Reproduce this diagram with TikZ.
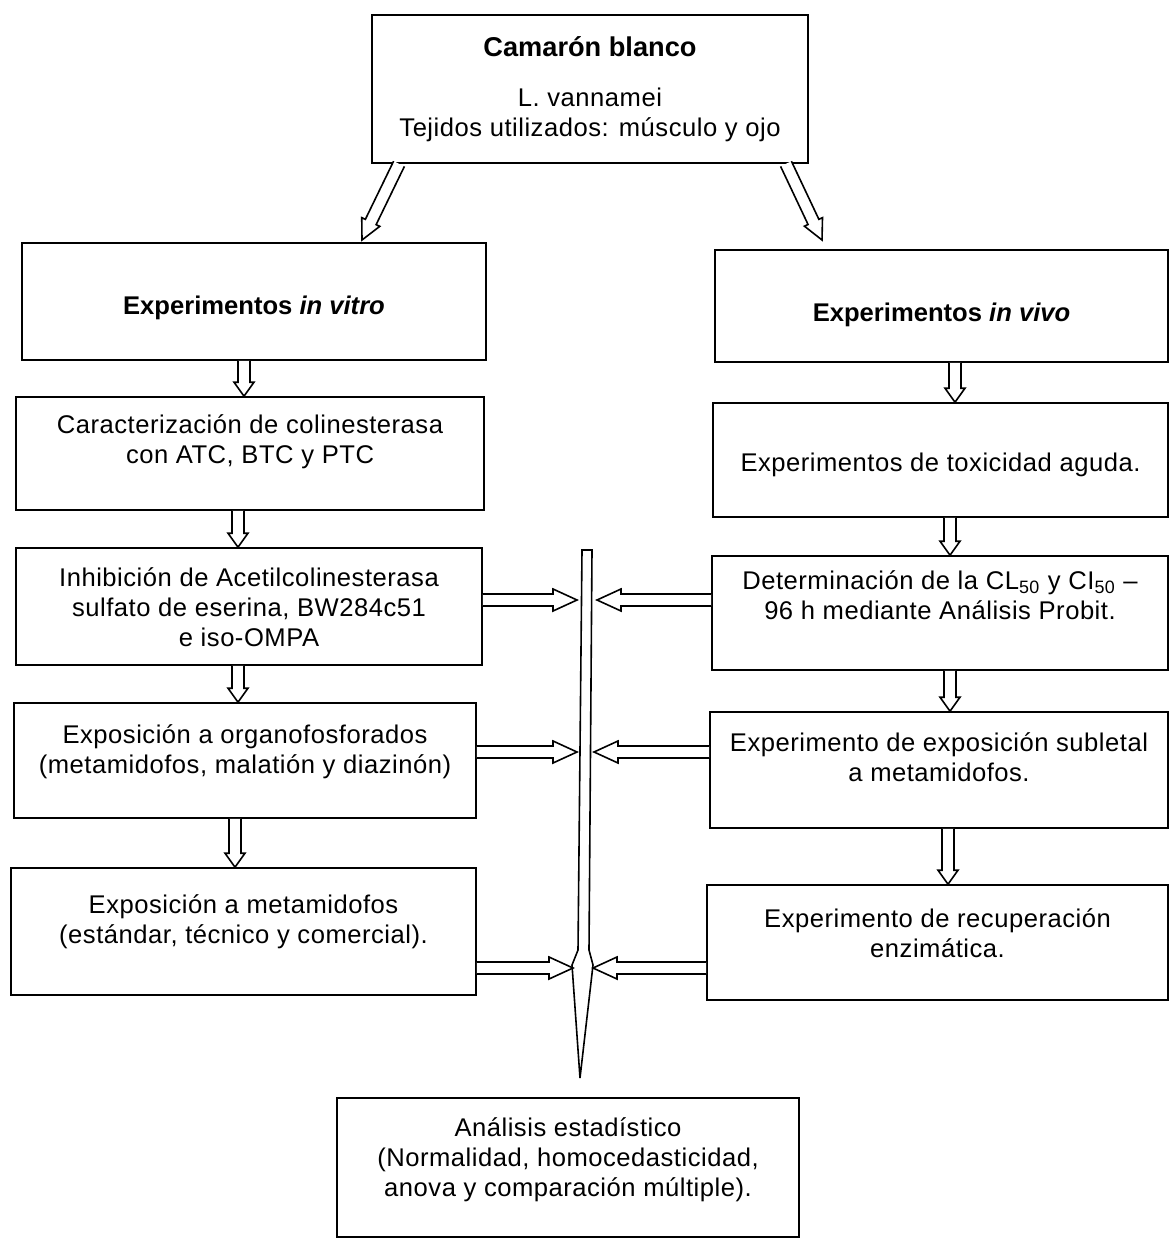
\documentclass[tikz,border=0pt]{standalone}
\usepackage{fontspec}
\setmainfont{Liberation Sans}[UprightFeatures={LetterSpace=2}]
\usetikzlibrary{calc}
\newcommand\fs{\fontsize{12.8}{15}\selectfont}
\newcommand{\harrow}[5]{%
  \coordinate (ha) at (#4);
  \coordinate (hb) at (#5);
  \coordinate (hq) at ($(hb)!#3!(ha)$);
  \draw[hollow] ($(ha)!#1!90:(hb)$) -- ($(hq)!#1!90:(hb)$) -- ($(hq)!#2!90:(hb)$) -- (hb)
     -- ($(hq)!#2!-90:(hb)$) -- ($(hq)!#1!-90:(hb)$) -- ($(ha)!#1!-90:(hb)$);}
\tikzset{
  box/.style n args={2}{draw, line width=0.8pt, rectangle, minimum width=#1, minimum height=#2, inner sep=0pt},
  txt/.style={align=center, font=\fs, inner sep=0pt},
  hollow/.style={line width=0.8pt, line join=miter, fill=white},
}
\begin{document}
\begin{tikzpicture}[x=0.5pt,y=-0.5pt]
\useasboundingbox (0,0) rectangle (1170,1251);
% boxes
\node[box={218pt}{74pt}] (top) at (590,89) {};
\node[txt, font=\fontsize{13.6}{15}\selectfont\bfseries] (toptitle) at (590,47) {Camarón blanco};
\node[txt] (toptext) at (590,114.5) {L. vannamei\\Tejidos utilizados: músculo y ojo};

\node[box={232pt}{58.5pt}] (vitro) at (254,301.5) {};
\node[txt, font=\fs\bfseries] (vitrot) at ($(vitro)+(0,6)$) {Experimentos \textit{in vitro}};

\node[box={226.5pt}{56pt}] (vivo) at (941.5,306) {};
\node[txt, font=\fs\bfseries] (vivot) at ($(vivo)+(0,9)$) {Experimentos \textit{in vivo}};

\node[box={234pt}{56.5pt}] (carac) at (250,453.5) {};
\node[txt] (caract) at ($(carac)+(0,-12)$) {Caracterización de colinesterasa\\con ATC, BTC y PTC};

\node[box={227.5pt}{57pt}] (tox) at (940.5,460) {};
\node[txt] (toxt) at ($(tox)+(0,5)$) {Experimentos de toxicidad aguda.};

\node[box={233pt}{58.5pt}] (inhib) at (249,606.5) {};
\node[txt] (inhibt) at ($(inhib)+(0,1)$) {Inhibición de Acetilcolinesterasa\\sulfato de eserina, BW284c51\\e iso-OMPA};

\node[box={228pt}{57pt}] (det) at (940,613) {};
\node[txt] (dett) at ($(det)+(0,-18)$) {Determinación de la CL\textsubscript{50} y CI\textsubscript{50} –\\96 h mediante Análisis Probit.};

\node[box={231pt}{57.5pt}] (expo) at (245,760.5) {};
\node[txt] (expot) at ($(expo)+(0,-9)$) {Exposición a organofosforados\\(metamidofos, malatión y diazinón)};

\node[box={229pt}{58pt}] (sub) at (939,770) {};
\node[txt] (subt) at ($(sub)+(0,-13)$) {Experimento de exposición subletal\\a metamidofos.};

\node[box={232.5pt}{63.5pt}] (meta) at (243.5,931.5) {};
\node[txt] (metat) at ($(meta)+(0,-9.5)$) {Exposición a metamidofos\\(estándar, técnico y comercial).};

\node[box={230.5pt}{57.5pt}] (rec) at (937.5,942.5) {};
\node[txt] (rect) at ($(rec)+(0,-9.5)$) {Experimento de recuperación\\enzimática.};

\node[box={231pt}{69.5pt}] (stat) at (568,1167.5) {};
\node[txt] (statt) at ($(stat)+(0,-7.5)$) {Análisis estadístico\\(Normalidad, homocedasticidad,\\anova y comparación múltiple).};

% central collecting bar
\draw[hollow] (582,550) -- (592,550) -- (589,950) -- (593,965) -- (580,1078) -- (572,965) -- (578,950) -- cycle;
\coordinate (t1l) at (577,600);
\coordinate (t1r) at (597,600);
\coordinate (t2l) at (577,752);
\coordinate (t2r) at (594,752);
\coordinate (t3l) at (573,968);
\coordinate (t3r) at (593,968);

% diagonal arrows
\harrow{3pt}{5pt}{10pt}{top.south -| 399,0}{362,240}
\harrow{3pt}{5pt}{10pt}{top.south -| 786,0}{822,240}

% vertical arrows
\harrow{3pt}{5pt}{7pt}{vitro.south -| 244,0}{carac.north -| 244,0}
\harrow{3pt}{5pt}{7pt}{carac.south -| 238,0}{inhib.north -| 238,0}
\harrow{3pt}{5pt}{7pt}{inhib.south -| 238,0}{expo.north -| 238,0}
\harrow{3pt}{5pt}{7pt}{expo.south -| 235,0}{meta.north -| 235,0}
\harrow{3pt}{5pt}{7pt}{vivo.south -| 955,0}{tox.north -| 955,0}
\harrow{3pt}{5pt}{7pt}{tox.south -| 950,0}{det.north -| 950,0}
\harrow{3pt}{5pt}{7pt}{det.south -| 950,0}{sub.north -| 950,0}
\harrow{3pt}{5pt}{7pt}{sub.south -| 948,0}{rec.north -| 948,0}

% horizontal arrows into the bar
\harrow{3pt}{5.5pt}{12pt}{inhib.east |- t1l}{t1l}
\harrow{3pt}{5.5pt}{12pt}{det.west |- t1r}{t1r}
\harrow{3pt}{5.5pt}{12pt}{expo.east |- t2l}{t2l}
\harrow{3pt}{5.5pt}{12pt}{sub.west |- t2r}{t2r}
\harrow{3pt}{5.5pt}{12pt}{meta.east |- t3l}{t3l}
\harrow{3pt}{5.5pt}{12pt}{rec.west |- t3r}{t3r}
\end{tikzpicture}
\end{document}
